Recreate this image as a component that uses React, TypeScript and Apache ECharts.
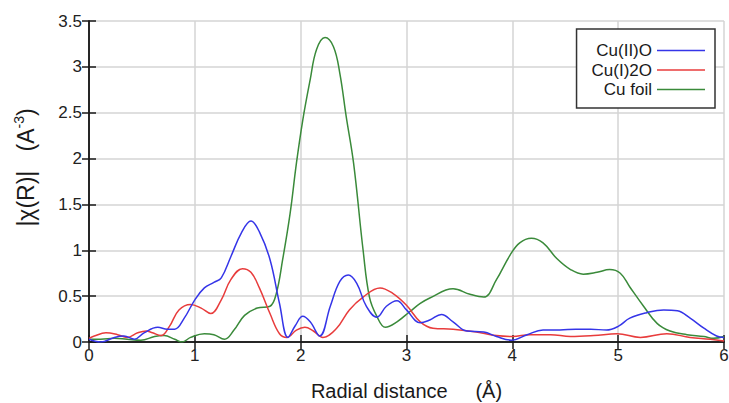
import React, { useEffect, useRef } from "react";
import * as echarts from "echarts";

const seriesNames = ["Cu(II)O", "Cu(I)2O", "Cu foil"];
const seriesColors = ["#3535e8", "#e83c3c", "#3a8a3a"];

const cuIIO_R = [0, 0.11, 0.24, 0.33, 0.43, 0.52, 0.65, 0.74, 0.81, 0.9, 1.0, 1.09, 1.18, 1.25, 1.34, 1.44, 1.53, 1.61, 1.71, 1.8, 1.88, 1.95, 2.02, 2.09, 2.18, 2.28, 2.37, 2.45, 2.53, 2.62, 2.72, 2.81, 2.91, 3.0, 3.13, 3.22, 3.33, 3.44, 3.57, 3.73, 3.85, 3.99, 4.14, 4.29, 4.45, 4.6, 4.74, 4.89, 5.0, 5.11, 5.27, 5.43, 5.56, 5.68, 5.81, 5.93, 6.0];
const cuIIO_chi = [0.03, 0.0, 0.05, 0.065, 0.03, 0.1, 0.16, 0.14, 0.14, 0.26, 0.46, 0.59, 0.65, 0.7, 0.93, 1.19, 1.32, 1.2, 0.9, 0.42, 0.05, 0.18, 0.28, 0.22, 0.065, 0.39, 0.66, 0.73, 0.64, 0.39, 0.27, 0.39, 0.45, 0.35, 0.21, 0.24, 0.3, 0.22, 0.12, 0.11, 0.06, 0.02, 0.08, 0.13, 0.13, 0.14, 0.14, 0.13, 0.17, 0.26, 0.32, 0.35, 0.34, 0.26, 0.15, 0.065, 0.05];

const cuI2O_R = [0, 0.05, 0.16, 0.27, 0.36, 0.46, 0.54, 0.6, 0.68, 0.76, 0.85, 0.96, 1.06, 1.15, 1.25, 1.34, 1.45, 1.53, 1.61, 1.71, 1.8, 1.87, 1.96, 2.04, 2.12, 2.21, 2.34, 2.46, 2.59, 2.75, 2.87, 3.0, 3.13, 3.25, 3.44, 3.66, 3.85, 4.0, 4.17, 4.36, 4.55, 4.77, 4.99, 5.21, 5.46, 5.68, 5.87, 6.0];
const cuI2O_chi = [0.04, 0.065, 0.1, 0.08, 0.05, 0.1, 0.12, 0.1, 0.07, 0.17, 0.35, 0.41, 0.37, 0.31, 0.46, 0.68, 0.8, 0.76, 0.59, 0.31, 0.09, 0.05, 0.13, 0.16, 0.12, 0.05, 0.15, 0.35, 0.49, 0.59, 0.53, 0.4, 0.22, 0.15, 0.14, 0.11, 0.07, 0.06, 0.08, 0.08, 0.06, 0.07, 0.09, 0.05, 0.09, 0.05, 0.03, 0.01];

const cuFoil_R = [0, 0.11, 0.24, 0.36, 0.49, 0.62, 0.71, 0.81, 0.88, 0.96, 1.09, 1.18, 1.28, 1.37, 1.47, 1.59, 1.71, 1.77, 1.83, 1.9, 1.96, 2.02, 2.09, 2.15, 2.23, 2.31, 2.37, 2.43, 2.5, 2.59, 2.65, 2.72, 2.8, 2.91, 3.03, 3.13, 3.22, 3.44, 3.6, 3.73, 3.85, 3.98, 4.07, 4.18, 4.29, 4.42, 4.55, 4.67, 4.8, 4.92, 5.02, 5.11, 5.24, 5.37, 5.49, 5.65, 5.81, 5.9, 6.0];
const cuFoil_chi = [0.03, 0.03, 0.04, 0.03, 0.02, 0.06, 0.07, 0.03, 0.0, 0.05, 0.09, 0.08, 0.03, 0.13, 0.29, 0.37, 0.39, 0.53, 0.9, 1.4, 1.95, 2.42, 2.86, 3.19, 3.32, 3.22, 2.93, 2.46, 1.95, 1.0, 0.49, 0.28, 0.16, 0.22, 0.33, 0.42, 0.48, 0.58, 0.52, 0.49, 0.68, 0.95, 1.08, 1.13, 1.08, 0.91, 0.79, 0.74, 0.76, 0.79, 0.75, 0.6, 0.39, 0.2, 0.12, 0.08, 0.06, 0.04, 0.06];

const xTitle = "Radial distance     (Å)";

const pairs = (xs: number[], ys: number[]) => xs.map((x, i) => [x, ys[i]]);

export default function App() {
  const ref = useRef<HTMLDivElement>(null);
  useEffect(() => {
    document.body.style.margin = "0";
    const chart = echarts.init(ref.current!, undefined, { renderer: "svg" });
    const font = "Liberation Sans, Arial, sans-serif";
    const frameLine = { show: true, lineStyle: { color: "#1a1a1a", width: 1.5 } };
    const tick = { show: true, inside: true, length: 7, lineStyle: { color: "#1a1a1a", width: 1.5 } };
    const data = [
      pairs(cuIIO_R, cuIIO_chi),
      pairs(cuI2O_R, cuI2O_chi),
      pairs(cuFoil_R, cuFoil_chi),
    ];
    chart.setOption({
      animation: false,
      backgroundColor: "#ffffff",
      grid: { left: 89, right: 5, top: 21, bottom: 61, containLabel: false, outerBoundsMode: "none" },
      legend: {
        orient: "vertical",
        right: 14,
        top: 29,
        align: "right",
        icon: "rect",
        itemWidth: 48,
        itemHeight: 1.5,
        itemGap: 2.5,
        padding: [13, 10, 10, 15],
        borderColor: "#333",
        borderWidth: 1.5,
        backgroundColor: "#ffffff",
        textStyle: { fontFamily: font, fontSize: 17, color: "#1a1a1a" },
        data: seriesNames,
      },
      xAxis: [
        {
          type: "value",
          min: 0,
          max: 6,
          interval: 1,
          axisLine: frameLine,
          axisTick: tick,
          axisLabel: { fontFamily: font, fontSize: 17, color: "#222", margin: 5 },
          splitLine: { show: true, lineStyle: { color: "#d4d4d4", width: 1.5 } },
          name: xTitle,
          nameLocation: "middle",
          nameGap: 39,
          nameTextStyle: { fontFamily: font, fontSize: 20, color: "#1a1a1a" },
        },
        {
          type: "value",
          position: "top",
          min: 0,
          max: 6,
          interval: 1,
          axisLine: frameLine,
          axisTick: tick,
          axisLabel: { show: false },
          splitLine: { show: false },
        },
      ],
      yAxis: [
        {
          type: "value",
          min: 0,
          max: 3.5,
          interval: 0.5,
          axisLine: frameLine,
          axisTick: tick,
          axisLabel: { fontFamily: font, fontSize: 17, color: "#222", margin: 7 },
          splitLine: { show: true, lineStyle: { color: "#d4d4d4", width: 1.5 } },
          name: "|χ(R)|   (A{sup|-3})",
          nameLocation: "middle",
          nameGap: 50,
          nameTextStyle: {
            fontFamily: font,
            fontSize: 23,
            color: "#1a1a1a",
            lineHeight: 27,
            padding: [0, 0, 0, 28],
            rich: {
              sup: { fontFamily: font, fontSize: 14, lineHeight: 14, verticalAlign: "top", color: "#1a1a1a" },
            },
          },
        },
        {
          type: "value",
          position: "right",
          min: 0,
          max: 3.5,
          interval: 0.5,
          axisLine: frameLine,
          axisTick: tick,
          axisLabel: { show: false },
          splitLine: { show: false },
        },
      ],
      series: seriesNames.map((name, i) => ({
        name,
        type: "line",
        data: data[i],
        smooth: 0.4,
        symbol: "none",
        showSymbol: false,
        color: seriesColors[i],
        lineStyle: { color: seriesColors[i], width: 1.5 },
        z: 3 - i,
      })),
    });
    return () => chart.dispose();
  }, []);
  return <div ref={ref} style={{ width: 729, height: 403 }} />;
}
